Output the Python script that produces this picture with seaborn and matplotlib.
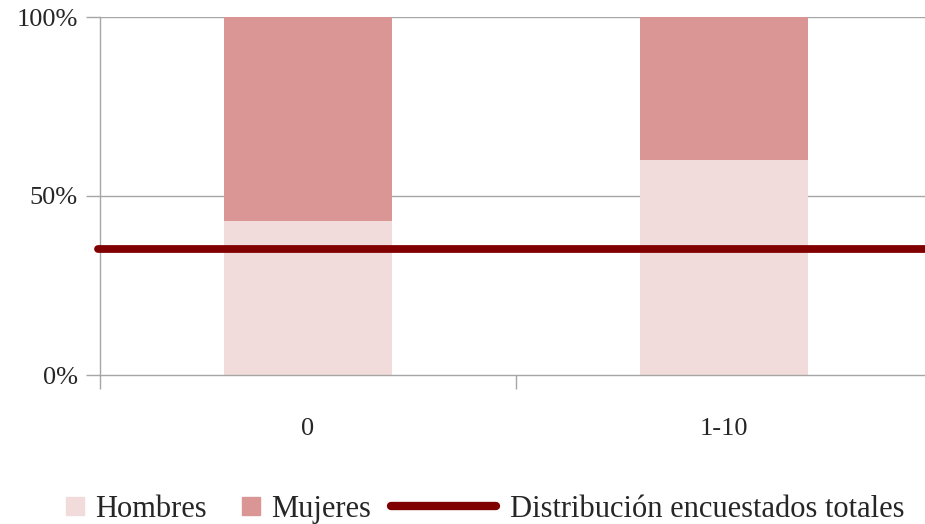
import matplotlib
matplotlib.use("Agg")
import matplotlib.pyplot as plt
import seaborn as sns
import pandas as pd
from matplotlib.lines import Line2D
from matplotlib.patches import Patch

categories = ["0", "1-10"]
hombres = [43.0, 60.0]
mujeres = [57.0, 40.0]
total_line = 35.2
y_ticks = [0, 50, 100]
y_labels = ["0%", "50%", "100%"]

c_h = "#F2DCDB"
c_m = "#D99694"
c_line = "#800000"
grey = "#A6A6A6"

sns.set_theme(style="white")
plt.rcParams["font.family"] = ["Liberation Serif", "DejaVu Serif"]

df = pd.DataFrame({"cat": categories, "h": hombres,
                   "tot": [a + b for a, b in zip(hombres, mujeres)]})

fig = plt.figure(figsize=(9.25, 5.24), dpi=100)
ax = fig.add_axes([100 / 925, 149 / 524, 832 / 925, 358 / 524])

# stacked bars: total first (Mujeres colour), then Hombres on top
sns.barplot(data=df, x="cat", y="tot", color=c_m, width=0.404, ax=ax,
            saturation=1, linewidth=0, zorder=2)
sns.barplot(data=df, x="cat", y="h", color=c_h, width=0.404, ax=ax,
            saturation=1, linewidth=0, zorder=2)

ax.axhline(total_line, xmin=-0.003, xmax=1, color=c_line, linewidth=5.6,
           solid_capstyle="round", clip_on=False, zorder=3)

ax.set_xlim(-0.5, 1.5)
ax.set_ylim(0, 100)
ax.set_yticks(y_ticks)
ax.set_yticklabels(y_labels, fontsize=19)
for y in [50, 100]:
    ax.axhline(y, color=grey, linewidth=1, zorder=1)

ax.set_xticks([0, 1])
ax.set_xticklabels(categories, fontsize=19)
ax.set_xticks([-0.5, 0.5, 1.5], minor=True)
ax.tick_params(axis="x", which="major", length=0, pad=31)
ax.tick_params(axis="x", which="minor", length=10, width=1, color=grey,
               direction="out", bottom=True)
ax.tick_params(axis="y", length=10, width=1, color=grey, direction="out",
               left=True, pad=6)
ax.set_xlabel("")
ax.set_ylabel("")

for s in ["top", "right"]:
    ax.spines[s].set_visible(False)
for s in ["left", "bottom"]:
    ax.spines[s].set_color(grey)
    ax.spines[s].set_linewidth(1)

# legend: patches and line drawn as two legends (different handle sizes)
patches = [Patch(color=c_h, label="Hombres"),
           Patch(color=c_m, label="Mujeres")]
leg1 = fig.legend(handles=patches, loc="center left",
                  bbox_to_anchor=(66 / 925, 0.028), ncol=2, frameon=False,
                  fontsize=22, handlelength=0.6, handleheight=0.55,
                  handletextpad=0.36, columnspacing=1.15, borderpad=0,
                  borderaxespad=0)
line_h = [Line2D([0], [0], color=c_line, linewidth=6, solid_capstyle="round",
                 label="Distribución encuestados totales")]
leg2 = fig.legend(handles=line_h, loc="center left",
                  bbox_to_anchor=(391 / 925, 0.028), frameon=False,
                  fontsize=22, handlelength=3.45, handletextpad=0.45,
                  borderpad=0, borderaxespad=0)

fig.savefig("out.png", dpi=100)
